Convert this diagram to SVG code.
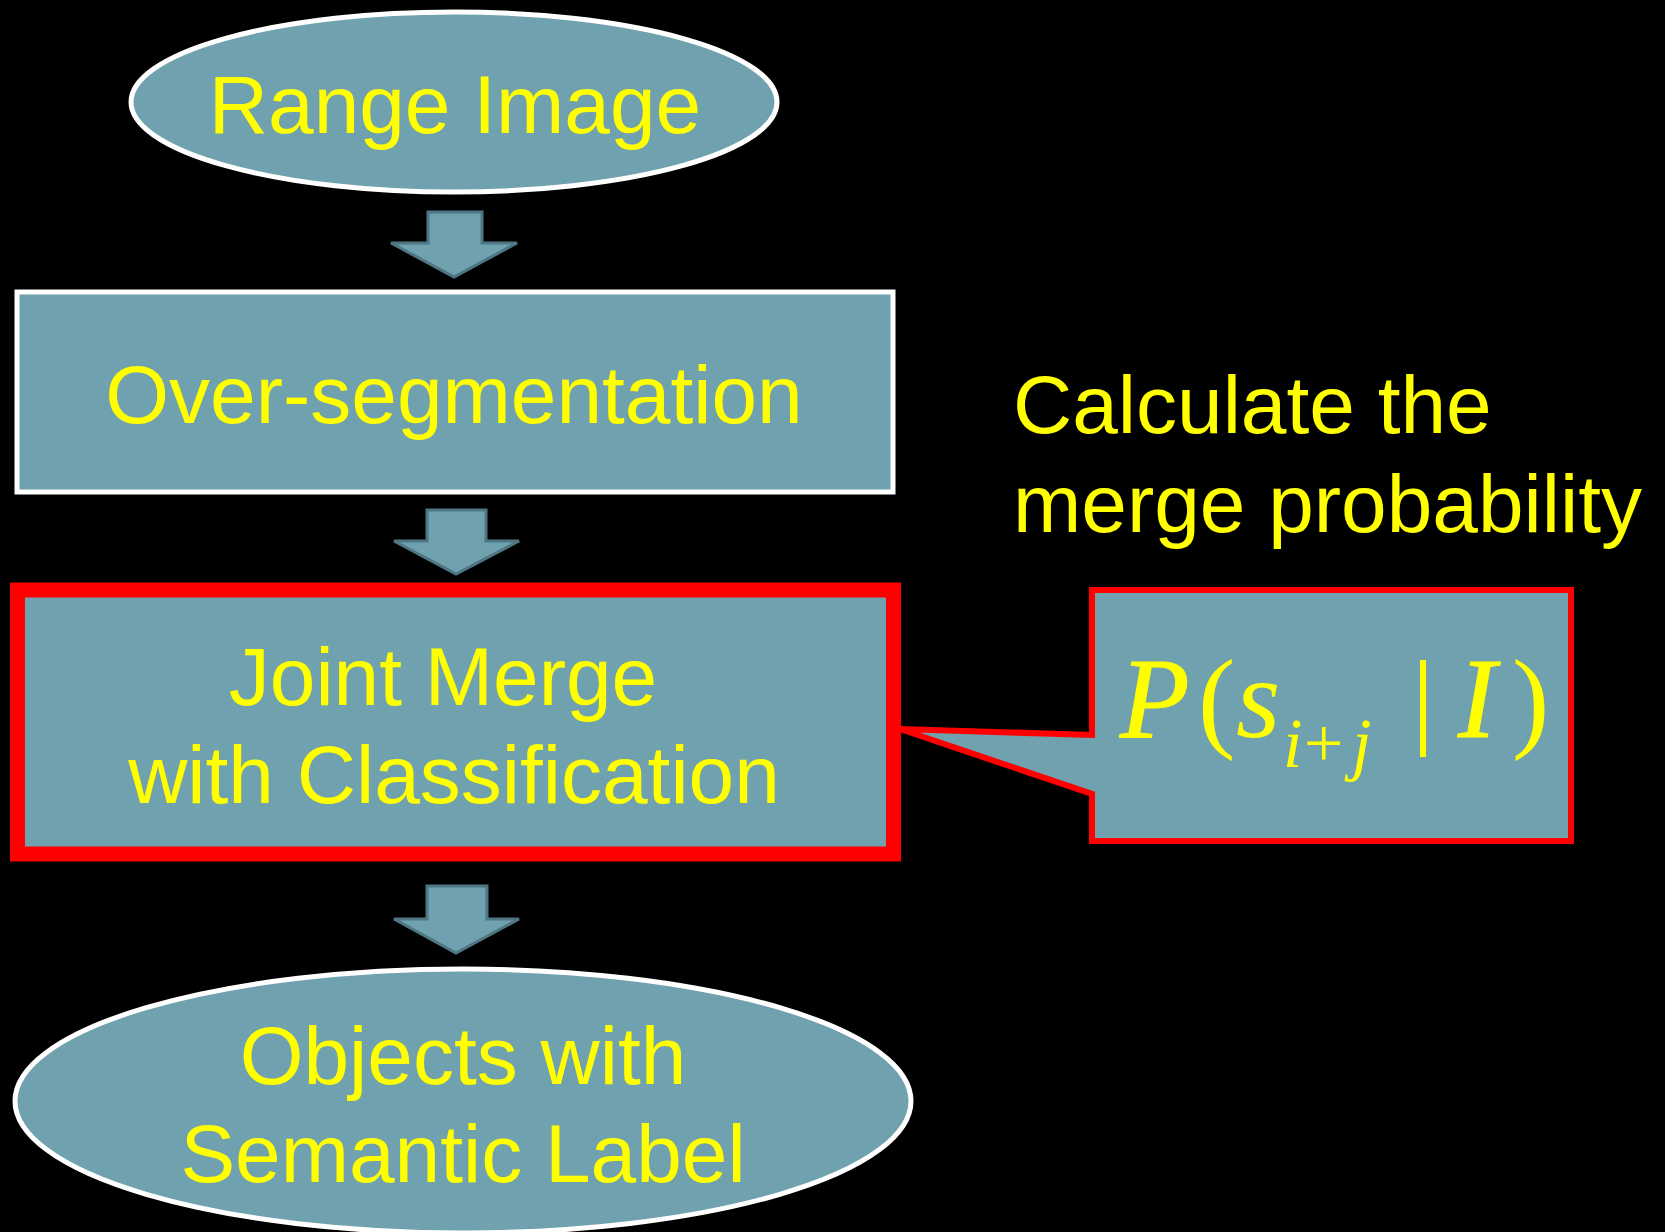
<svg xmlns="http://www.w3.org/2000/svg" width="1665" height="1232" viewBox="0 0 1665 1232">
<style>
.bg{fill:#000}
.node{fill:#6FA1AE}
.white{stroke:#FFFFFF;stroke-width:5}
.lbl{font-family:"Liberation Sans",Arial,sans-serif;font-size:82px;fill:#FFFF00;text-anchor:middle}
.free{font-family:"Liberation Sans",Arial,sans-serif;font-size:82px;fill:#FFFF00}
.arrow{fill:#6FA1AE;stroke:#4E7683;stroke-width:3;stroke-linejoin:miter}
.math{font-family:"Liberation Serif","Times New Roman",serif;fill:#FFFF00}
.heavy{stroke:#FFFF00;stroke-width:1}
</style>
<rect class="bg" x="0" y="0" width="1665" height="1232"/>

<g id="connectors">
  <path class="arrow" d="M428,212 H482 V243 H517 L454,277 L391,243 H428 Z"/>
  <path class="arrow" d="M427,510 H486 V541 H519 L456,574 L394,541 H427 Z"/>
  <path class="arrow" d="M427,886 H487 V919 H519 L456,953 L394,919 H427 Z"/>
</g>

<g id="range-image">
  <ellipse class="node white" cx="454" cy="102" rx="323" ry="90" stroke-width="4.5"/>
  <text class="lbl" x="455" y="133">Range Image</text>
</g>

<g id="over-segmentation">
  <rect class="node white" x="17" y="292" width="876" height="200" stroke-width="6"/>
  <text class="lbl" x="454" y="423">Over-segmentation</text>
</g>

<g id="joint-merge">
  <rect class="node" x="17.5" y="590" width="876" height="264" stroke="#FF0000" stroke-width="15"/>
  <text class="lbl" x="443" y="705">Joint Merge</text>
  <text class="lbl" x="454" y="803">with Classification</text>
</g>

<g id="objects">
  <ellipse class="node white" cx="463" cy="1101" rx="448" ry="132" stroke-width="4.5"/>
  <text class="lbl" x="463" y="1084">Objects with</text>
  <text class="lbl" x="463" y="1182">Semantic Label</text>
</g>

<g id="calc-note">
  <text class="free" x="1013" y="433">Calculate the</text>
  <text class="free" x="1013" y="532">merge probability</text>
</g>

<g id="callout">
  <path class="node" d="M1092,590 H1571 V841 H1092 V794 L900,729 L1092,735 Z" stroke="#FF0000" stroke-width="6" stroke-linejoin="miter"/>
  <text class="math heavy" x="1120" y="737" font-size="114" font-style="italic">P</text>
  <text class="math" x="1198" y="737" font-size="112">(</text>
  <text class="math" x="1236" y="737" font-size="114" font-style="italic">s</text>
  <text class="math" x="1283" y="767" font-size="70" font-style="italic">i</text>
  <text class="math" x="1304" y="767" font-size="70">+</text>
  <text class="math" x="1352" y="767" font-size="70" font-style="italic">j</text>
  <rect x="1420" y="660" width="6" height="97" fill="#FFFF00"/>
  <text class="math heavy" x="1458" y="737" font-size="114" font-style="italic">I</text>
  <text class="math" x="1512" y="737" font-size="112">)</text>
</g>
</svg>
